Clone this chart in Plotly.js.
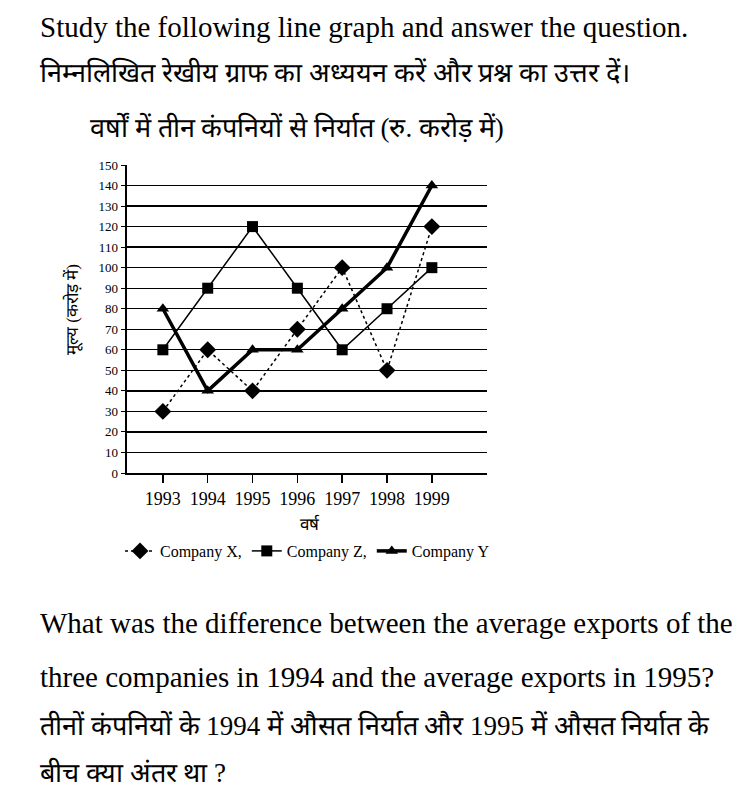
<!DOCTYPE html>
<html>
<head>
<meta charset="utf-8">
<script src="https://cdn.plot.ly/plotly-3.0.1.min.js"></script>
<style>
html,body{margin:0;padding:0;background:#fff;}
#chart{width:754px;height:801px;}
</style>
</head>
<body>
<div id="chart"></div>
<script>
// ---- data ----
const years = [1993, 1994, 1995, 1996, 1997, 1998, 1999];
const companyX = [30, 60, 40, 70, 100, 50, 120];
const companyZ = [60, 90, 120, 90, 60, 80, 100];
const companyY = [80, 40, 60, 60, 80, 100, 140];
const seriesNames = ["Company X,", "Company Z,", "Company Y"];
const yTicks = [0, 10, 20, 30, 40, 50, 60, 70, 80, 90, 100, 110, 120, 130, 140, 150];

const headerLines = [
  "Study the following line graph and answer the question.",
  "निम्नलिखित रेखीय ग्राफ का अध्ययन करें और प्रश्न का उत्तर दें।",
  "वर्षों में तीन कंपनियों से निर्यात (रु. करोड़ में)"
];
const questionLines = [
  "What was the difference between the average exports of the",
  "three companies in 1994 and the average exports in 1995?",
  "तीनों कंपनियों के 1994 में औसत निर्यात और 1995 में औसत निर्यात के",
  "बीच क्या अंतर था ?"
];
const xTitle = "वर्ष";
const yTitle = "मूल्य (करोड़ में)";

// ---- layout helpers (pixel -> paper) ----
const W = 754, H = 801;
const L = 127, R = 487, T = 165, B = 473;
const px = x => (x - L) / (R - L);
const py = y => (B - y) / (B - T);

const serif = "Liberation Serif, serif";

const traces = [
  {x: years, y: companyX, name: seriesNames[0], mode: "lines+markers",
   line: {color: "#000", width: 1.5, dash: "dot"},
   marker: {symbol: "diamond", size: 13, color: "#000"}},
  {x: years, y: companyZ, name: seriesNames[1], mode: "lines+markers",
   line: {color: "#000", width: 1.5},
   marker: {symbol: "square", size: 11, color: "#000"}},
  {x: years, y: companyY, name: seriesNames[2], mode: "lines+markers",
   line: {color: "#000", width: 3.5},
   marker: {symbol: "triangle-up", size: 11, color: "#000"}}
];

const annotations = [];
const hdr = [[38, 27, 29], [38, 72, 27], [88, 127, 27]];
headerLines.forEach((t, i) => annotations.push({
  text: t, xref: "paper", yref: "paper", x: px(hdr[i][0]), y: py(hdr[i][1]),
  xanchor: "left", yanchor: "middle", showarrow: false,
  font: {family: serif, size: hdr[i][2], color: "#000"}
}));
const q = [[38, 623, 29], [38, 677, 29], [38, 725, 27], [38, 772, 27]];
questionLines.forEach((t, i) => annotations.push({
  text: t, xref: "paper", yref: "paper", x: px(q[i][0]), y: py(q[i][1]),
  xanchor: "left", yanchor: "middle", showarrow: false,
  font: {family: serif, size: q[i][2], color: "#000"}
}));
annotations.push({text: xTitle, xref: "paper", yref: "paper", x: px(310), y: py(524),
  xanchor: "center", yanchor: "middle", showarrow: false,
  font: {family: serif, size: 17, color: "#000"}});
annotations.push({text: yTitle, xref: "paper", yref: "paper", x: px(72), y: py(310),
  xanchor: "center", yanchor: "middle", showarrow: false, textangle: -90,
  font: {family: serif, size: 17, color: "#000"}});

const layout = {
  width: W, height: H,
  margin: {l: L, r: W - R, t: T, b: H - B, pad: 0},
  paper_bgcolor: "#fff", plot_bgcolor: "#fff",
  showlegend: true,
  legend: {orientation: "h", x: px(120), y: py(551), xanchor: "left", yanchor: "middle",
    font: {family: serif, size: 16, color: "#000"}, bgcolor: "rgba(0,0,0,0)",
    itemwidth: 30, tracegroupgap: 0},
  xaxis: {
    range: [1992.2, 2000.23], tickvals: years, ticktext: years.map(String),
    showgrid: false, zeroline: false, showline: true, linecolor: "#000", linewidth: 2,
    ticks: "outside", ticklen: 8, tickwidth: 1.5, tickcolor: "#000",
    tickfont: {family: serif, size: 18, color: "#000"}
  },
  yaxis: {
    range: [0, 150], tickvals: yTicks, ticktext: yTicks.map(String),
    showgrid: true, gridcolor: "#000", gridwidth: 1.3, zeroline: false,
    showline: true, linecolor: "#000", linewidth: 2.5,
    ticks: "outside", ticklen: 4, tickwidth: 1, tickcolor: "#000",
    tickfont: {family: serif, size: 13, color: "#000"}
  },
  annotations: annotations
};

Plotly.newPlot("chart", traces, layout, {displayModeBar: false, staticPlot: true});
</script>
</body>
</html>
